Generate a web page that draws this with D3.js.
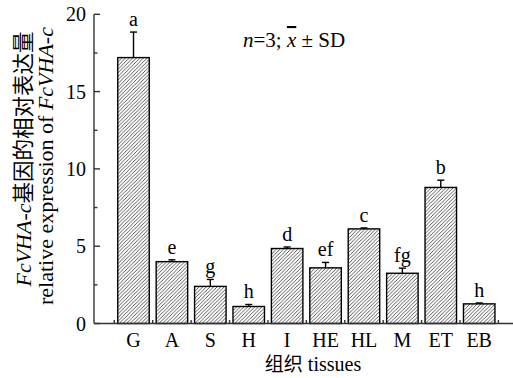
<!DOCTYPE html>
<html><head><meta charset="utf-8">
<script src="https://cdn.jsdelivr.net/npm/d3@7"></script>
<style>
body{margin:0;background:#fff}
</style></head><body>
<svg id="c" width="513" height="378"></svg>
<script>
const categories = ["G","A","S","H","I","HE","HL","M","ET","EB"];
const means = [17.2,4.0,2.4,1.1,4.85,3.6,6.12,3.25,8.8,1.27];
const sds = [1.65,0.12,0.45,0.13,0.1,0.35,0.06,0.33,0.47,0.06];
const letters = ["a","e","g","h","d","ef","c","fg","b","h"];
const yTicks = [0,5,10,15,20];
const yMinorTicks = [2.5,7.5,12.5,17.5];

const SERIF = "'Liberation Serif','Times New Roman',serif";
const CJK = "'Noto Sans CJK SC','Noto Sans CJK JP',sans-serif";

const svg = d3.select("#c");
const X0 = 94, X1 = 513, Y0 = 323.5, Y1 = 14.3;
const y = d3.scaleLinear().domain([0,20]).range([Y0,Y1]);
const x = d3.scaleBand().domain(categories).range([114.3,498.4]).paddingInner(0.18).paddingOuter(0.09);

const defs = svg.append("defs");
const pat = defs.append("pattern").attr("id","hatch").attr("patternUnits","userSpaceOnUse")
  .attr("width",3.6).attr("height",3.6);
pat.append("path").attr("d","M-0.9,0.9 L0.9,-0.9 M0,3.6 L3.6,0 M2.7,4.5 L4.5,2.7")
  .attr("stroke","#222").attr("stroke-width",0.75);

const data = categories.map((c,i)=>({c, m:means[i], sd:sds[i], l:letters[i]}));
const cx = d => x(d.c)+x.bandwidth()/2;

// bars
svg.selectAll("rect.bar").data(data).enter().append("rect")
  .attr("x",d=>x(d.c)).attr("width",x.bandwidth())
  .attr("y",d=>y(d.m)).attr("height",d=>Y0-y(d.m))
  .attr("fill","url(#hatch)").attr("stroke","#000").attr("stroke-width",1.4);

// error bars
const eb = svg.selectAll("g.err").data(data).enter().append("g");
eb.append("line").attr("x1",cx).attr("x2",cx)
  .attr("y1",d=>y(d.m)).attr("y2",d=>y(d.m+d.sd)).attr("stroke","#000").attr("stroke-width",1.4);
eb.append("line").attr("x1",d=>cx(d)-3.5).attr("x2",d=>cx(d)+3.5)
  .attr("y1",d=>y(d.m+d.sd)).attr("y2",d=>y(d.m+d.sd)).attr("stroke","#000").attr("stroke-width",1.4);
eb.append("text").attr("x",cx).attr("y",d=>y(d.m+d.sd)-6)
  .attr("text-anchor","middle").attr("font-family",SERIF).attr("font-size",20).text(d=>d.l);

// axes
const ax = svg.append("g").attr("stroke","#333").attr("stroke-width",1.4);
ax.append("line").attr("x1",X0).attr("x2",X0).attr("y1",Y1).attr("y2",Y0);
ax.append("line").attr("x1",X0).attr("x2",X1).attr("y1",Y0).attr("y2",Y0);
ax.selectAll("line.maj").data(yTicks).enter().append("line")
  .attr("x1",X0).attr("x2",X0+6).attr("y1",d=>y(d)).attr("y2",d=>y(d));
ax.selectAll("line.min").data(yMinorTicks).enter().append("line")
  .attr("x1",X0).attr("x2",X0+3.5).attr("y1",d=>y(d)).attr("y2",d=>y(d));
svg.selectAll("text.yt").data(yTicks).enter().append("text")
  .attr("x",X0-8).attr("y",d=>y(d)+7).attr("text-anchor","end")
  .attr("font-family",SERIF).attr("font-size",20).text(d=>d);

// x ticks at band boundaries
const step = x.step();
const bounds = d3.range(categories.length+1).map(i=>x.range()[0]+i*step);
ax.selectAll("line.xt").data(bounds).enter().append("line")
  .attr("x1",d=>d).attr("x2",d=>d).attr("y1",Y0).attr("y2",Y0-3.5);
svg.selectAll("text.xl").data(categories).enter().append("text")
  .attr("x",d=>x(d)+x.bandwidth()/2).attr("y",347).attr("text-anchor","middle")
  .attr("font-family",SERIF).attr("font-size",20).text(d=>d);

// x title
const xt = svg.append("text").attr("x",313).attr("y",371).attr("text-anchor","middle").attr("font-size",20).attr("font-family",SERIF);
xt.append("tspan").attr("font-family",CJK).attr("font-size",19).text("组织");
xt.append("tspan").attr("font-family",SERIF).text(" tissues");

// y title
const yt1 = svg.append("text").attr("transform","translate(31,159) rotate(-90)").attr("text-anchor","middle").attr("font-size",22).attr("font-family",SERIF);
yt1.append("tspan").attr("font-style","italic").attr("font-family",SERIF).text("FcVHA-c");
yt1.append("tspan").attr("font-family",CJK).attr("font-size",21.5).text("基因的相对表达量");
const yt2 = svg.append("text").attr("transform","translate(53,166) rotate(-90)").attr("text-anchor","middle").attr("font-size",22).attr("font-family",SERIF);
yt2.append("tspan").attr("font-family",SERIF).text("relative expression of ");
yt2.append("tspan").attr("font-style","italic").attr("font-family",SERIF).text("FcVHA-c");

// annotation
const an = svg.append("text").attr("x",243).attr("y",47).attr("font-size",21).attr("font-family",SERIF);
an.append("tspan").attr("font-style","italic").attr("font-family",SERIF).text("n");
an.append("tspan").attr("font-family",SERIF).text("=3; ");
an.append("tspan").attr("font-style","italic").attr("font-family",SERIF).attr("text-decoration","overline").text("x");
an.append("tspan").attr("font-family",SERIF).text(" ± SD");
</script>
</body></html>
